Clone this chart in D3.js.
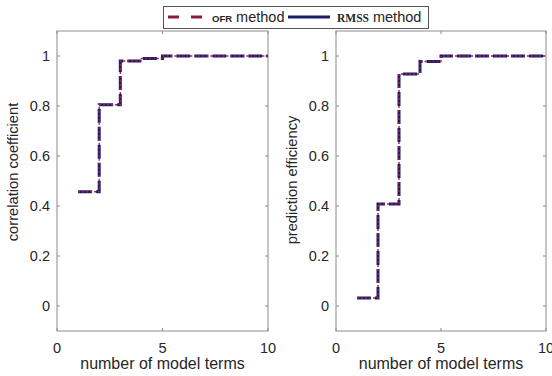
<!DOCTYPE html>
<html>
<head>
<meta charset="utf-8">
<script src="https://cdn.jsdelivr.net/npm/d3@7"></script>
<style>
  body { margin: 0; background: #fff; }
  svg { font-family: Arial, "Liberation Sans", sans-serif; }
</style>
</head>
<body>
<div id="chart"></div>
<script>
// model terms 1..10
const terms = [1, 2, 3, 4, 5, 6, 7, 8, 9, 10];
const corrOFR = [0.457, 0.805, 0.98, 0.99, 1.0, 1.0, 1.0, 1.0, 1.0, 1.0];
const corrRMSS = [0.457, 0.805, 0.98, 0.99, 1.0, 1.0, 1.0, 1.0, 1.0, 1.0];
const predOFR = [0.032, 0.408, 0.928, 0.978, 1.0, 1.0, 1.0, 1.0, 1.0, 1.0];
const predRMSS = [0.032, 0.408, 0.928, 0.978, 1.0, 1.0, 1.0, 1.0, 1.0, 1.0];
const xTicks = [0, 5, 10];
const yTicks = [0, 0.2, 0.4, 0.6, 0.8, 1];

const W = 552, H = 376;
const svg = d3.select('#chart').append('svg')
  .attr('width', W)
  .attr('height', H);

const plotTop = 31, plotBottom = 331;
const panels = [
  { left: 57, right: 268, label: 'correlation coefficient', labelX: 18, labelY: 172, ofr: corrOFR, rmss: corrRMSS },
  { left: 336, right: 546, label: 'prediction efficiency', labelX: 297, labelY: 180, ofr: predOFR, rmss: predRMSS }
];

const textColor = '#262626';
const axisColor = '#8c8c8c';

panels.forEach(p => {
  const x = d3.scaleLinear().domain([0, 10]).range([p.left, p.right]);
  const y = d3.scaleLinear().domain([-0.1, 1.1]).range([plotBottom, plotTop]);

  const g = svg.append('g');

  // ticks (inside, on all four sides like matlab)
  const tl = 3;
  xTicks.forEach(t => {
    g.append('line').attr('x1', x(t)).attr('x2', x(t)).attr('y1', plotBottom).attr('y2', plotBottom - tl)
      .attr('stroke', axisColor);
    g.append('line').attr('x1', x(t)).attr('x2', x(t)).attr('y1', plotTop).attr('y2', plotTop + tl)
      .attr('stroke', axisColor);
    g.append('text')
      .attr('x', x(t)).attr('y', plotBottom + 22)
      .attr('text-anchor', 'middle')
      .attr('fill', textColor)
      .style('font-size', '14.5px')
      .text(t);
  });
  yTicks.forEach(t => {
    g.append('line').attr('x1', p.left).attr('x2', p.left + tl).attr('y1', y(t)).attr('y2', y(t))
      .attr('stroke', axisColor);
    g.append('line').attr('x1', p.right).attr('x2', p.right - tl).attr('y1', y(t)).attr('y2', y(t))
      .attr('stroke', axisColor);
    g.append('text')
      .attr('x', p.left - 7).attr('y', y(t))
      .attr('dy', '0.35em')
      .attr('text-anchor', 'end')
      .attr('fill', textColor)
      .style('font-size', '14.5px')
      .text(t);
  });

  g.append('rect')
    .attr('x', p.left).attr('y', plotTop)
    .attr('width', p.right - p.left).attr('height', plotBottom - plotTop)
    .attr('fill', 'none')
    .attr('stroke', axisColor)
    .attr('stroke-width', 1);

  // stairs
  const stairs = vals => {
    const pts = [];
    vals.forEach((v, i) => {
      if (i > 0) pts.push([terms[i], vals[i - 1]]);
      pts.push([terms[i], v]);
    });
    return d3.line().x(d => x(d[0])).y(d => y(d[1]))(pts);
  };

  g.append('path')
    .attr('d', stairs(p.rmss))
    .attr('fill', 'none')
    .attr('stroke', '#1c1c6b')
    .attr('stroke-width', 3)
    .attr('stroke-dasharray', '14,4');

  g.append('path')
    .attr('d', stairs(p.ofr))
    .attr('fill', 'none')
    .attr('stroke', '#9b2348')
    .attr('stroke-width', 1.4)
    .attr('stroke-dasharray', '2,2');

  g.append('text')
    .attr('transform', `translate(${p.labelX},${p.labelY}) rotate(-90)`)
    .attr('text-anchor', 'middle')
    .attr('fill', textColor)
    .style('font-size', '14.7px')
    .text(p.label);

  g.append('text')
    .attr('x', (p.left + p.right) / 2)
    .attr('y', 369)
    .attr('text-anchor', 'middle')
    .attr('fill', textColor)
    .style('font-size', '16px')
    .text('number of model terms');
});

// Legend
const lg = svg.append('g');
lg.append('rect')
  .attr('x', 163.5).attr('y', 6.5)
  .attr('width', 265).attr('height', 22)
  .attr('fill', '#fff')
  .attr('stroke', '#555');

lg.append('line')
  .attr('x1', 168).attr('x2', 202).attr('y1', 17).attr('y2', 17)
  .attr('stroke', '#8b1a3e').attr('stroke-width', 3)
  .attr('stroke-dasharray', '11,12');
const t1 = lg.append('text').attr('x', 212).attr('y', 22).attr('fill', textColor).style('font-size', '14.5px');
t1.append('tspan').style('font-size', '9.5px').style('font-weight', 'bold').text('OFR');
t1.append('tspan').text(' method');

lg.append('line')
  .attr('x1', 288).attr('x2', 330).attr('y1', 17).attr('y2', 17)
  .attr('stroke', '#1c1c6b').attr('stroke-width', 3);
const t2 = lg.append('text').attr('x', 337).attr('y', 22).attr('fill', textColor).style('font-size', '14.5px');
t2.append('tspan').style('font-family', '"Liberation Serif", "Times New Roman", serif').style('font-size', '11.5px').style('font-weight', 'bold').text('RMSS');
t2.append('tspan').text(' method');
</script>
</body>
</html>
